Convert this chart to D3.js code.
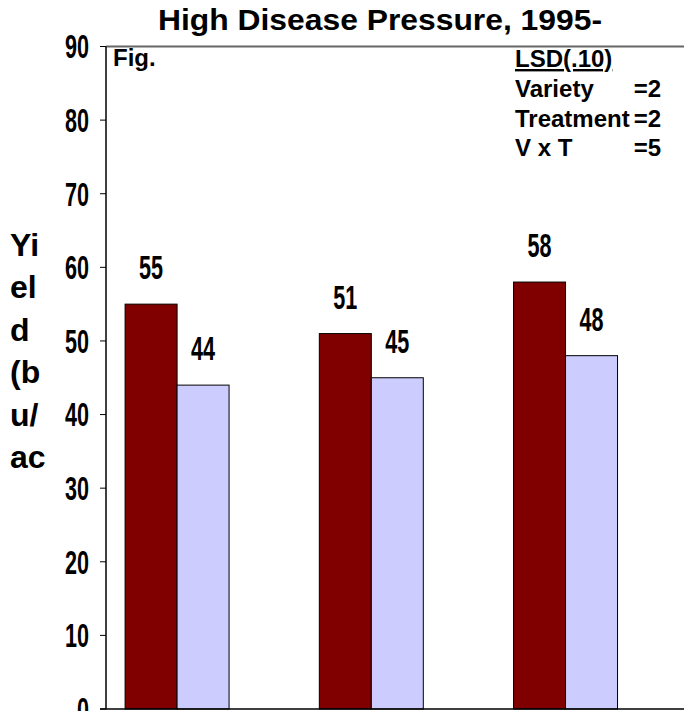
<!DOCTYPE html>
<html>
<head>
<meta charset="utf-8">
<script src="https://cdn.jsdelivr.net/npm/d3@7"></script>
<style>
  html, body { margin: 0; padding: 0; background: #fff; }
  svg { display: block; }
  text { font-family: Arial, "Liberation Sans", sans-serif; font-weight: bold; fill: #000; }
</style>
</head>
<body>
<script>
// ---- data ----
const categories = ["Group 1", "Group 2", "Group 3"];
const seriesNames = ["Series 1", "Series 2"];
const series1 = [55, 51, 58];
const series2 = [44, 45, 48];
const yTicks = [0, 10, 20, 30, 40, 50, 60, 70, 80, 90];
const titleText = "High Disease Pressure, 1995-";
const yTitleLines = ["Yi", "el", "d", "(b", "u/", "ac"];
const noteText = "Fig.";
const lsdHeader = "LSD(.10)";
const lsdLabels = ["Variety", "Treatment", "V x T"];
const lsdValues = [2, 2, 5];

// ---- layout ----
const W = 684, H = 711;
const colors = ["#800000", "#CCCCFF"];
const slotsPerGroup = 3;
const digitScaleX = 0.655;

const svg = d3.select("body").append("svg").attr("width", W).attr("height", H);

const y = d3.scaleLinear().domain([0, 90]).range([709, 46.5]);
const x0 = d3.scaleBand().domain(categories).range([106, 688.6])
  .paddingInner(0.197).paddingOuter(0.0983);
const xs = d3.scaleBand().domain(d3.range(slotsPerGroup)).range([0, x0.bandwidth()]);

// top plot border (gray)
svg.append("line").attr("x1", 106).attr("x2", W).attr("y1", y(90)).attr("y2", y(90))
  .attr("stroke", "#666").attr("stroke-width", 2);

// bars
const allSeries = [series1, series2];
allSeries.forEach((vals, si) => {
  svg.append("g").selectAll("rect").data(vals).join("rect")
    .attr("x", (d, i) => x0(categories[i]) + xs(si))
    .attr("y", d => y(d))
    .attr("width", xs.bandwidth())
    .attr("height", d => y(0) - y(d))
    .attr("fill", colors[si])
    .attr("stroke", "#000").attr("stroke-width", 1);
  svg.append("g").selectAll("text").data(vals).join("text")
    .attr("transform", (d, i) => `translate(${x0(categories[i]) + xs(si) + xs.bandwidth() / 2},${y(d) - 25}) scale(${digitScaleX},1)`)
    .attr("text-anchor", "middle")
    .style("font-size", "33px")
    .text(d => d);
});

// y axis line
svg.append("line").attr("x1", 106).attr("x2", 106).attr("y1", y(90)).attr("y2", y(0))
  .attr("stroke", "#000").attr("stroke-width", 1.5);
// baseline
svg.append("line").attr("x1", 100).attr("x2", W).attr("y1", y(0)).attr("y2", y(0))
  .attr("stroke", "#000").attr("stroke-width", 1.5);

// ticks
const tg = svg.append("g").selectAll("g").data(yTicks).join("g");
tg.append("line").attr("x1", 100).attr("x2", 106)
  .attr("y1", d => y(d)).attr("y2", d => y(d))
  .attr("stroke", "#000").attr("stroke-width", 1);
tg.append("text")
  .attr("transform", d => `translate(89,${y(d) + 11.8}) scale(${digitScaleX},1)`)
  .attr("text-anchor", "end")
  .style("font-size", "33px")
  .text(d => d);

// title
svg.append("text").attr("x", 380).attr("y", 30).attr("text-anchor", "middle")
  .attr("textLength", 444).attr("lengthAdjust", "spacingAndGlyphs")
  .style("font-size", "29px").text(titleText);

// y title
svg.append("g").selectAll("text").data(yTitleLines).join("text")
  .attr("x", 10).attr("y", (d, i) => 256 + 42.4 * i)
  .style("font-size", "32px").text(d => d);

// Fig. note
svg.append("text").attr("x", 113).attr("y", 66).style("font-size", "24px").text(noteText);

// LSD block
svg.append("text").attr("x", 515).attr("y", 67).style("font-size", "24px")
  .style("text-decoration", "underline").text(lsdHeader);
lsdLabels.forEach((lab, i) => {
  const by = 96.8 + 29.7 * i;
  svg.append("text").attr("x", 515).attr("y", by).style("font-size", "24px").text(lab);
  svg.append("text").attr("x", 661).attr("y", by).attr("text-anchor", "end")
    .style("font-size", "24px").text("=" + lsdValues[i]);
});
</script>
</body>
</html>
